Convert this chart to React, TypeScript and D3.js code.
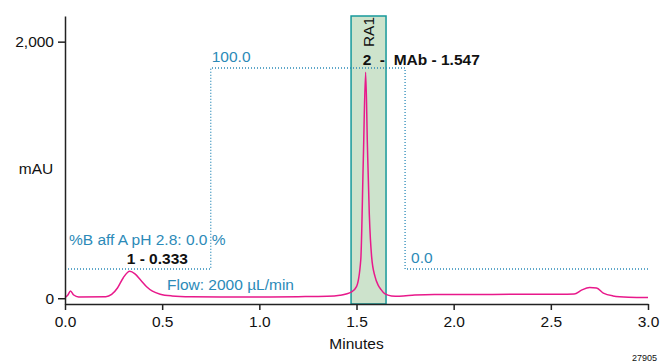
import React, { useRef, useEffect } from 'react';
import * as d3 from 'd3';

// chromatogram trace (minutes, mAU)
const traceTime = [0.0, 0.015, 0.028, 0.045, 0.07, 0.21, 0.24, 0.27, 0.3, 0.333, 0.36, 0.39, 0.42, 0.45, 0.49, 0.55, 0.65, 0.8, 1.0, 1.2, 1.35, 1.415, 1.475, 1.5, 1.522, 1.535, 1.547, 1.556, 1.566, 1.578, 1.595, 1.612, 1.625, 1.645, 1.68, 1.72, 1.8, 1.9, 2.2, 2.5, 2.62, 2.66, 2.7, 2.735, 2.77, 2.82, 2.9, 3.0];
const traceMau = [5, 25, 57, 25, 10, 12, 30, 80, 160, 210, 190, 140, 90, 55, 31, 18, 12, 10, 10, 12, 15, 23, 50, 90, 300, 1075, 1762, 1200, 650, 320, 170, 100, 70, 35, 18, 16, 25, 30, 30, 31, 32, 65, 83, 80, 40, 18, 8, 5];

// gradient program (%B)
const gradTime = [0, 0.75, 0.75, 1.75, 1.75, 3.0];
const gradPct = [0, 0, 100, 100, 0, 0];

const xTicks = [0, 0.5, 1.0, 1.5, 2.0, 2.5, 3.0];
const yTicks = [0, 2000];
const fraction = [1.472, 1.652];

const peaks = [
  { label: '1 - 0.333', time: 0.333, value: 210 },
  { label: '2  -  MAb - 1.547', time: 1.547, value: 1762 },
];

const W = 664;
const H = 362;
const FONT = 'Arial, "Liberation Sans", sans-serif';
const FS = 15.5;
const PINK = '#e8198b';
const BLUE = '#2b8ab8';

const App = () => {
  const ref = useRef<SVGSVGElement>(null);

  useEffect(() => {
    const svg = d3.select(ref.current);
    svg.selectAll('*').remove();

    const left = 65, right = 648, top = 16, bottom = 304;

    const x = d3.scaleLinear().domain([0, 3]).range([left, right]);
    const y = d3.scaleLinear().domain([-45, 2200]).range([bottom, top]);
    const y2 = d3.scaleLinear().domain([0, 100]).range([269, 68]);

    // fraction box
    svg.append('rect')
      .attr('x', x(fraction[0]))
      .attr('y', top)
      .attr('width', x(fraction[1]) - x(fraction[0]))
      .attr('height', bottom - top)
      .attr('fill', '#cde3cc')
      .attr('stroke', '#16999a')
      .attr('stroke-width', 1.5);

    svg.append('text')
      .attr('transform', `translate(${x((fraction[0] + fraction[1]) / 2) + 5},32) rotate(-90)`)
      .attr('text-anchor', 'middle')
      .attr('font-family', FONT)
      .attr('font-size', FS)
      .attr('fill', '#111')
      .text('RA1');

    // gradient
    const gLine = d3.line<number>()
      .x((d, i) => x(gradTime[i]))
      .y(d => y2(d));
    svg.append('path')
      .attr('d', gLine(gradPct))
      .attr('fill', 'none')
      .attr('stroke', BLUE)
      .attr('stroke-width', 1.3)
      .attr('stroke-dasharray', '1,2');

    const blueText = (tx: number, ty: number, s: string) =>
      svg.append('text')
        .attr('x', tx).attr('y', ty)
        .attr('font-family', FONT)
        .attr('font-size', FS)
        .attr('fill', BLUE)
        .text(s);

    blueText(x(0.75) + 1, y2(100) - 6, '100.0');
    blueText(x(1.75) + 6, y2(0) - 6, '0.0');
    blueText(69, 245, '%B aff A pH 2.8: 0.0 %');
    blueText(167, 290, 'Flow: 2000 µL/min');

    // trace
    const line = d3.line<number>()
      .x((d, i) => x(traceTime[i]))
      .y(d => y(d))
      .curve(d3.curveMonotoneX);
    svg.append('path')
      .attr('d', line(traceMau))
      .attr('fill', 'none')
      .attr('stroke', PINK)
      .attr('stroke-width', 1.5);

    // peak labels
    svg.selectAll('text.peak')
      .data(peaks)
      .enter().append('text')
      .attr('class', 'peak')
      .attr('x', d => x(d.time) - 3)
      .attr('y', (d, i) => (i === 0 ? 264 : 65))
      .attr('font-family', FONT)
      .attr('font-size', FS)
      .attr('font-weight', 'bold')
      .attr('fill', '#111')
      .style('white-space', 'pre')
      .text(d => d.label);

    // axes
    const xAxis = svg.append('g')
      .attr('transform', `translate(0,${bottom})`)
      .call(d3.axisBottom(x).tickValues(xTicks).tickFormat(d3.format('.1f')).tickSize(6).tickSizeOuter(0));
    const yAxis = svg.append('g')
      .attr('transform', `translate(${left},0)`)
      .call(d3.axisLeft(y).tickValues(yTicks).tickFormat(d3.format(',')).tickSize(7).tickSizeOuter(0));

    [xAxis, yAxis].forEach(g => {
      g.selectAll('path, line').attr('stroke', '#222').attr('stroke-width', 1.5);
      g.selectAll('text')
        .attr('font-family', FONT)
        .attr('font-size', FS)
        .attr('fill', '#111');
    });
    xAxis.selectAll('text').attr('dy', '0.9em');
    yAxis.selectAll('text').attr('x', -11);

    svg.append('text')
      .attr('x', (left + right) / 2).attr('y', 349)
      .attr('text-anchor', 'middle')
      .attr('font-family', FONT).attr('font-size', FS).attr('fill', '#111')
      .text('Minutes');

    svg.append('text')
      .attr('x', 36).attr('y', 174)
      .attr('text-anchor', 'middle')
      .attr('font-family', FONT).attr('font-size', FS).attr('fill', '#111')
      .text('mAU');

    svg.append('text')
      .attr('x', 632).attr('y', 361)
      .attr('font-family', FONT).attr('font-size', 9).attr('fill', '#111')
      .text('27905');
  }, []);

  return (
    <svg
      ref={ref}
      width={W}
      height={H}
      style={{ position: 'absolute', left: 0, top: 0, background: '#fff' }}
    />
  );
};

export default App;
